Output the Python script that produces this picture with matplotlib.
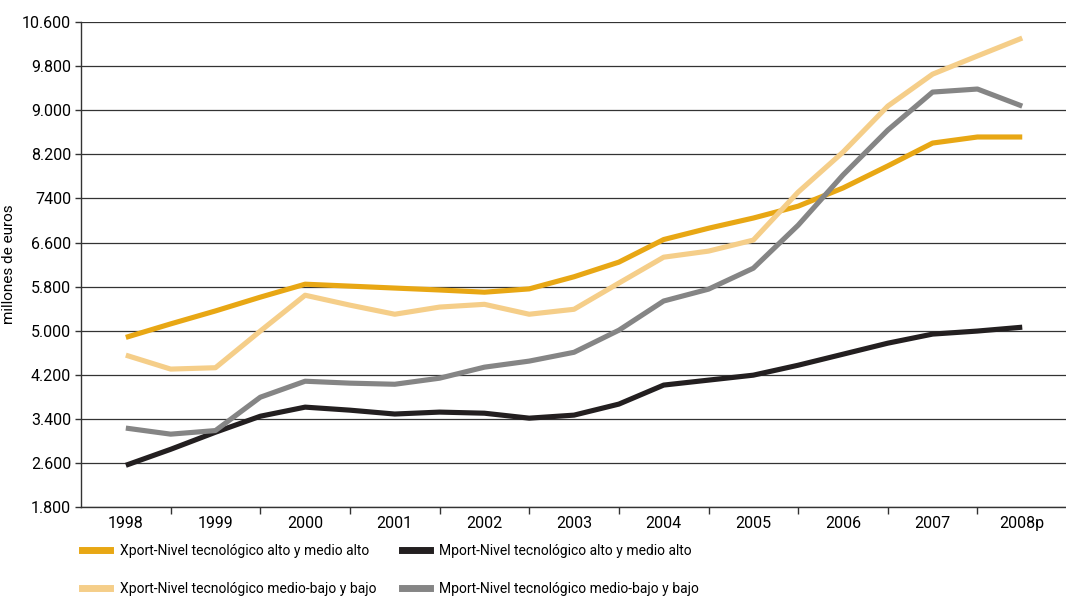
import numpy as np
import matplotlib
matplotlib.use("Agg")
import matplotlib.pyplot as plt
from matplotlib.lines import Line2D

plt.rcParams["font.family"] = ["Roboto", "DejaVu Sans"]

years = ["1998", "1999", "2000", "2001", "2002", "2003", "2004", "2005", "2006", "2007", "2008p"]

# values every half year (1998, 1998.5, ..., 2008p)
xport_alto = [4880, 5125, 5360, 5610, 5845, 5810, 5775, 5740, 5700, 5760, 5980,
              6245, 6655, 6860, 7045, 7260, 7590, 7990, 8405, 8515, 8515]
xport_medio = [4558, 4305, 4330, 4995, 5645, 5465, 5300, 5430, 5480, 5300, 5390,
               5865, 6335, 6445, 6645, 7515, 8240, 9075, 9655, 9985, 10310]
mport_alto = [2560, 2850, 3160, 3450, 3615, 3560, 3490, 3525, 3505, 3415, 3470,
              3670, 4015, 4105, 4195, 4375, 4575, 4775, 4940, 4995, 5065]
mport_medio = [3235, 3125, 3190, 3795, 4085, 4050, 4030, 4140, 4340, 4450, 4610,
               5010, 5540, 5755, 6135, 6915, 7825, 8640, 9330, 9385, 9075]

y_ticks = [1800, 2600, 3400, 4200, 5000, 5800, 6600, 7400, 8200, 9000, 9800, 10600]
y_labels = ["1.800", "2.600", "3.400", "4.200", "5.000", "5.800", "6.600", "7400",
            "8.200", "9.000", "9.800", "10.600"]

series = [
    ("Xport-Nivel tecnológico alto y medio alto", xport_alto, "#E8A714"),
    ("Xport-Nivel tecnológico medio-bajo y bajo", xport_medio, "#F5CE89"),
    ("Mport-Nivel tecnológico alto y medio alto", mport_alto, "#231F20"),
    ("Mport-Nivel tecnológico medio-bajo y bajo", mport_medio, "#858585"),
]

fig = plt.figure(figsize=(10.66, 5.96), dpi=100)
ax = fig.add_axes([0.076, 0.149, 0.925, 0.814])

x = np.arange(len(xport_alto)) / 2.0
for label, vals, color in series:
    ax.plot(x, vals, color=color, lw=3.7, solid_capstyle="butt",
            solid_joinstyle="round", zorder=3)

ax.set_xlim(-0.5, len(years) - 0.5)
ax.set_ylim(1800, 10600)
ax.set_xticks(range(len(years)))
ax.set_xticklabels(years, fontsize=11.5)
ax.set_xticks(np.arange(0.5, len(years) - 1, 1.0), minor=True)
ax.tick_params(axis="x", which="major", length=0, pad=6)
ax.tick_params(axis="x", which="minor", length=5, width=1, color="#333333")
ax.set_yticks(y_ticks)
ax.set_yticklabels(y_labels, fontsize=11.5)
ax.tick_params(axis="y", length=4, width=1, color="#333333", pad=3)
ax.set_ylabel("millones de euros", fontsize=11)
ax.yaxis.set_label_coords(-0.066, 0.5)

ax.grid(axis="y", color="#333333", lw=0.9, zorder=1)
ax.set_axisbelow(True)
for s in ["top", "right"]:
    ax.spines[s].set_visible(False)
ax.spines["left"].set_color("#333333")
ax.spines["bottom"].set_color("#333333")
ax.spines["left"].set_linewidth(1)
ax.spines["bottom"].set_linewidth(1)

# legend: two columns placed by hand
for col, items in enumerate([series[0:2], series[2:4]]):
    handles = [Line2D([], [], color=c, lw=5) for _, _, c in items]
    labels = [l for l, _, _ in items]
    fig.legend(handles, labels, loc="upper left",
               bbox_to_anchor=(0.077 + col * 0.3, 0.088),
               frameon=False, fontsize=10, handlelength=2.0,
               handletextpad=0.7, labelspacing=1.75, borderaxespad=0,
               borderpad=0)

fig.savefig("out.png", dpi=100)
